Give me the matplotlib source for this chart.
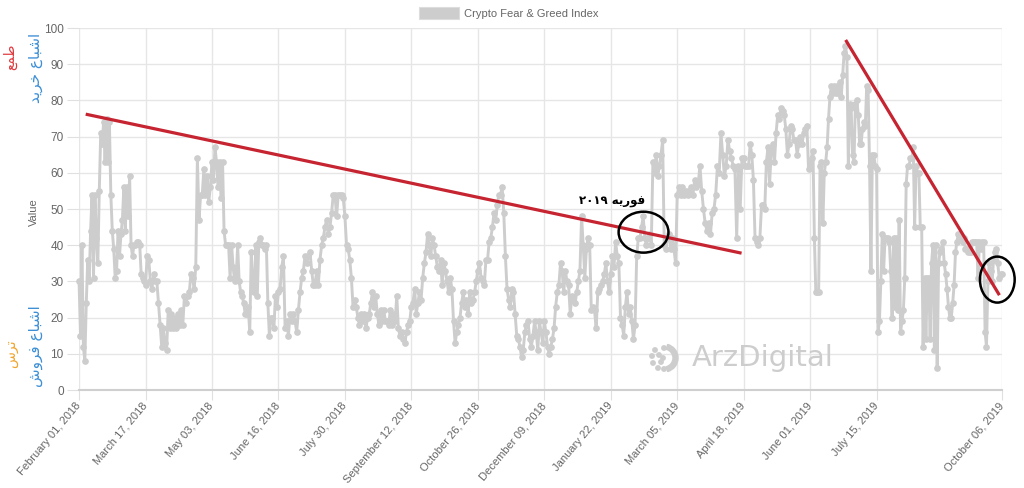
import numpy as np
import matplotlib
matplotlib.use("Agg")
import matplotlib.pyplot as plt
from matplotlib.patches import Ellipse, Patch, Wedge, Circle
from matplotlib.transforms import IdentityTransform

# ---------------- data ----------------
tick_labels = ["February 01, 2018", "March 17, 2018", "May 03, 2018", "June 16, 2018",
               "July 30, 2018", "September 12, 2018", "October 26, 2018", "December 09, 2018",
               "January 22, 2019", "March 05, 2019", "April 18, 2019", "June 01, 2019",
               "July 15, 2019", "October 06, 2019"]
# number of daily samples between consecutive labels
days_between_labels = [44, 44, 44, 44, 44, 44, 44, 44, 44, 44, 44, 44, 83]

# Crypto Fear & Greed Index values, read per label interval
feb01_mar17 = [30, 15, 40, 12, 8, 24, 36, 30, 44, 54, 31, 54, 42, 35, 55, 71, 68, 74, 63, 75, 63, 74, 54,
               44, 39, 31, 33, 44, 37, 43, 47, 56, 44, 56, 48, 59, 40, 37, 40, 40, 41, 41, 40, 32, 31, 30]
mar17_may03 = [29, 37, 36, 30, 28, 32, 30, 30, 24, 18, 12, 17, 13, 11, 22, 17, 21, 17, 20, 17, 21, 18, 22,
               18, 26, 24, 26, 27, 32, 31, 28, 34, 64, 47, 54, 54, 61, 54, 59, 52, 56]
may03_jun16 = [63, 58, 67, 63, 56, 63, 53, 63, 44, 40, 40, 40, 31, 40, 34, 30, 31, 40, 30, 27, 26, 24, 21,
               21, 23, 16, 38, 29, 27, 40, 26, 41, 42, 40, 40, 39, 40, 24, 15, 20, 20, 17, 26, 23]
jun16_jul30 = [27, 28, 34, 37, 17, 19, 15, 21, 19, 21, 19, 16, 22, 27, 31, 33, 37, 35, 37, 38, 33, 29, 29,
               33, 29, 36, 40, 42, 45, 47, 43, 45, 49, 54, 54, 48, 54, 54, 54, 53]
jul30_sep12 = [48, 40, 39, 36, 31, 23, 25, 23, 20, 18, 21, 19, 21, 17, 20, 21, 24, 27, 23, 26, 21, 18, 22,
               19, 22, 19, 19, 18, 22, 18, 21, 19, 26, 17, 15, 16, 14, 13, 16, 18, 19]
sep12_oct26 = [23, 24, 28, 21, 24, 27, 25, 31, 35, 38, 43, 40, 37, 42, 40, 37, 34, 33, 36, 29, 35, 33, 30,
               27, 31, 28, 19, 13, 16, 18, 20, 24, 27, 23, 25, 21, 27, 24, 25, 27, 30]
oct26_dec09 = [33, 35, 31, 30, 29, 36, 36, 41, 42, 45, 49, 47, 51, 54, 54, 56, 49, 37, 28, 25, 23, 28, 27,
               21, 15, 14, 12, 9, 11, 16, 18, 19, 14, 12, 15, 19, 16, 11, 19, 16, 13]
dec09_jan22 = [19, 16, 12, 10, 12, 14, 17, 23, 27, 29, 35, 33, 27, 33, 30, 29, 21, 26, 25, 24, 27, 30, 33,
               48, 40, 31, 39, 42, 40, 22, 23, 22, 17, 27, 28, 29, 30, 32, 35, 30, 27]
jan22_mar05 = [32, 37, 34, 41, 37, 35, 20, 18, 15, 23, 27, 21, 23, 19, 14, 18, 37, 42, 42, 45, 48, 42, 40,
               42, 43, 40, 63, 60, 65, 59, 62, 65, 69, 40, 39, 42, 43, 39, 42, 39, 35]
mar05_apr18 = [54, 56, 54, 56, 54, 55, 54, 55, 56, 54, 58, 56, 57, 62, 55, 50, 46, 44, 46, 43, 49, 50, 54,
               62, 60, 71, 65, 59, 62, 69, 66, 64, 62, 61, 42, 62, 50, 64]
apr18_jun01 = [64, 62, 62, 62, 68, 65, 58, 42, 41, 40, 42, 51, 51, 50, 63, 67, 57, 66, 68, 63, 71, 76, 75,
               78, 77, 76, 72, 65, 68, 73, 72, 69, 69, 65, 68, 70, 68, 71, 72, 73, 61]
jun01_jul15 = [62, 64, 66, 42, 27, 27, 27, 62, 63, 46, 60, 63, 67, 75, 81, 84, 82, 84, 82, 84, 82, 85, 81,
               87, 93, 95, 92, 62, 79, 78, 65, 63, 79, 80, 76, 68, 68, 72, 74, 73, 84, 83, 62, 33, 65, 65, 62]
jul15_oct06 = [61, 16, 19, 30, 43, 33, 42, 42, 42, 41, 33, 20, 42, 23, 42, 22, 47, 16, 19, 22, 31, 57, 62,
               62, 64, 64, 67, 45, 62, 60, 60, 45, 45, 12, 31, 14, 31, 31, 14, 35, 40, 11, 40, 6, 35, 38,
               39, 41, 35, 32, 28, 23, 20, 20, 24, 29, 38, 41, 43, 43, 42, 41, 42, 39, 39, 38, 38, 38, 41,
               41, 41, 41, 31, 41, 39, 41, 41, 16, 12, 30, 35, 33, 30, 36, 38, 39, 35, 31, 32, 32]

segments = [feb01_mar17, mar17_may03, may03_jun16, jun16_jul30, jul30_sep12, sep12_oct26,
            oct26_dec09, dec09_jan22, jan22_mar05, mar05_apr18, apr18_jun01, jun01_jul15, jul15_oct06]

# drawn annotations (in chart units: day index, index value)
trend_2018 = ([4.4, 438.6], [76.2, 37.8])
trend_2019 = ([507.5, 609.3], [96.7, 26.2])
circle_feb2019 = (373.7, 43.6, 33, 11.3)
circle_oct2019 = (607.9, 30.5, 23, 12.7)
note_pos = (353, 52.2)

# ------------- Persian shaping (matplotlib has no complex text layout) -------------
AR_FORMS = {
    '\u0627': ('\uFE8D', '\uFE8E', None, None),
    '\u0628': ('\uFE8F', '\uFE90', '\uFE91', '\uFE92'),
    '\u062A': ('\uFE95', '\uFE96', '\uFE97', '\uFE98'),
    '\u062E': ('\uFEA5', '\uFEA6', '\uFEA7', '\uFEA8'),
    '\u062F': ('\uFEA9', '\uFEAA', None, None),
    '\u0631': ('\uFEAD', '\uFEAE', None, None),
    '\u0633': ('\uFEB1', '\uFEB2', '\uFEB3', '\uFEB4'),
    '\u0634': ('\uFEB5', '\uFEB6', '\uFEB7', '\uFEB8'),
    '\u0637': ('\uFEC1', '\uFEC2', '\uFEC3', '\uFEC4'),
    '\u0639': ('\uFEC9', '\uFECA', '\uFECB', '\uFECC'),
    '\u0641': ('\uFED1', '\uFED2', '\uFED3', '\uFED4'),
    '\u0645': ('\uFEE1', '\uFEE2', '\uFEE3', '\uFEE4'),
    '\u0647': ('\uFEE9', '\uFEEA', '\uFEEB', '\uFEEC'),
    '\u0648': ('\uFEED', '\uFEEE', None, None),
    '\u06CC': ('\uFBFC', '\uFBFD', '\uFEF3', '\uFEF4'),
}


def shape_word(w):
    out = []
    for i, ch in enumerate(w):
        if ch not in AR_FORMS:
            out.append(ch)
            continue
        prev = w[i - 1] if i > 0 else None
        nxt = w[i + 1] if i + 1 < len(w) else None
        jp = prev in AR_FORMS and AR_FORMS[prev][2] is not None
        jn = AR_FORMS[ch][2] is not None and nxt in AR_FORMS
        iso, fin, ini, med = AR_FORMS[ch]
        out.append(med if (jp and jn) else fin if jp else ini if jn else iso)
    return ''.join(reversed(out))


def fa(text):
    words = text.split(' ')
    return ' '.join(shape_word(w) if any(c in AR_FORMS for c in w) else w for w in reversed(words))


# ---------------- figure ----------------
plt.rcParams['font.family'] = ['Liberation Sans', 'DejaVu Sans']
fig = plt.figure(figsize=(10.24, 4.88), dpi=100)
ax = fig.add_axes([0.0772, 0.2008, 0.9013, 0.7418])

tick_pos = np.concatenate([[0], np.cumsum(days_between_labels)])
xs, ys = [], []
for k, seg in enumerate(segments):
    last = (k == len(segments) - 1)
    xs.append(np.linspace(tick_pos[k], tick_pos[k + 1], len(seg), endpoint=last))
    ys.append(np.asarray(seg, dtype=float))
x = np.concatenate(xs)
y = np.concatenate(ys)

gray = '#cdcdcd'
ax.plot(x, y, color=gray, lw=2.1, marker='o', ms=3.8, mfc=gray, mec=gray, zorder=3,
        solid_joinstyle='round', clip_on=False)

red = '#c62430'
ax.plot(*trend_2018, color=red, lw=2.3, zorder=4, solid_capstyle='butt')
ax.plot(*trend_2019, color=red, lw=2.3, zorder=4, solid_capstyle='butt')

for cx, cy, w, h in (circle_feb2019, circle_oct2019):
    ax.add_patch(Ellipse((cx, cy), w, h, fill=False, ec='black', lw=1.8, zorder=5, clip_on=False))

ax.text(*note_pos, fa('فوریه ۲۰۱۹'), family=['DejaVu Sans'], fontsize=8.5, fontweight='bold',
        ha='center', va='center', color='black', zorder=6)

ax.set_xlim(0, tick_pos[-1])
ax.set_ylim(0, 100)
ax.set_yticks(np.arange(0, 101, 10))
ax.set_xticks(tick_pos)
ax.set_xticklabels(tick_labels, rotation=50, ha='right', va='center', rotation_mode='anchor')
ax.grid(True, color='#e6e6e6', lw=1, zorder=0)
ax.set_axisbelow(True)
for s in ('top', 'right', 'left'):
    ax.spines[s].set_visible(False)
ax.spines['bottom'].set_color('#cfcfcf')
ax.spines['bottom'].set_linewidth(1.5)
ax.tick_params(axis='x', colors='#e0e0e0', labelcolor='#666666', labelsize=8, length=7, pad=3)
ax.tick_params(axis='y', colors='#e0e0e0', labelcolor='#666666', labelsize=8.5, length=9, pad=2)

fig.text(0.033, 0.565, 'Value', rotation=90, color='#666666', fontsize=8, ha='center', va='center')

fig.text(0.010, 0.883, fa('طمع'), family=['DejaVu Sans'], rotation=90, color='#e0393e', fontsize=10,
         ha='center', va='center')
fig.text(0.035, 0.860, fa('اشباع خرید'), family=['DejaVu Sans'], rotation=90, color='#3d8fd6',
         fontsize=11, ha='center', va='center')
fig.text(0.011, 0.275, fa('ترس'), family=['DejaVu Sans'], rotation=90, color='#f0a52e', fontsize=10,
         ha='center', va='center')
fig.text(0.035, 0.290, fa('اشباع فروش'), family=['DejaVu Sans'], rotation=90, color='#3d8fd6',
         fontsize=11, ha='center', va='center')

# legend
fig.legend(handles=[Patch(facecolor=gray, edgecolor='#dddddd', lw=0.8, label='Crypto Fear & Greed Index')],
           loc='center', bbox_to_anchor=(0.497, 0.973), frameon=False, fontsize=8,
           handlelength=3.6, handleheight=1.2, handletextpad=0.5, labelcolor='#666666')

# watermark
fig.text(0.676, 0.266, 'ArzDigital', color='#cdcdcd', fontsize=21, family=['DejaVu Sans'],
         ha='left', va='center', zorder=1)
idt = IdentityTransform()
fig.add_artist(Wedge((664, 130), 14, -75, 75, width=5, color='#cdcdcd', transform=idt))
for dx, dy in [(-9, 8), (-12, 2), (-11, -5), (-6, -10), (-5, 3), (-3, -4), (0, 10), (0, -11), (-1, 0)]:
    fig.add_artist(Circle((664 + dx, 130 + dy), 2.2, color='#cdcdcd', transform=idt))

fig.savefig('out.png', dpi=100)
